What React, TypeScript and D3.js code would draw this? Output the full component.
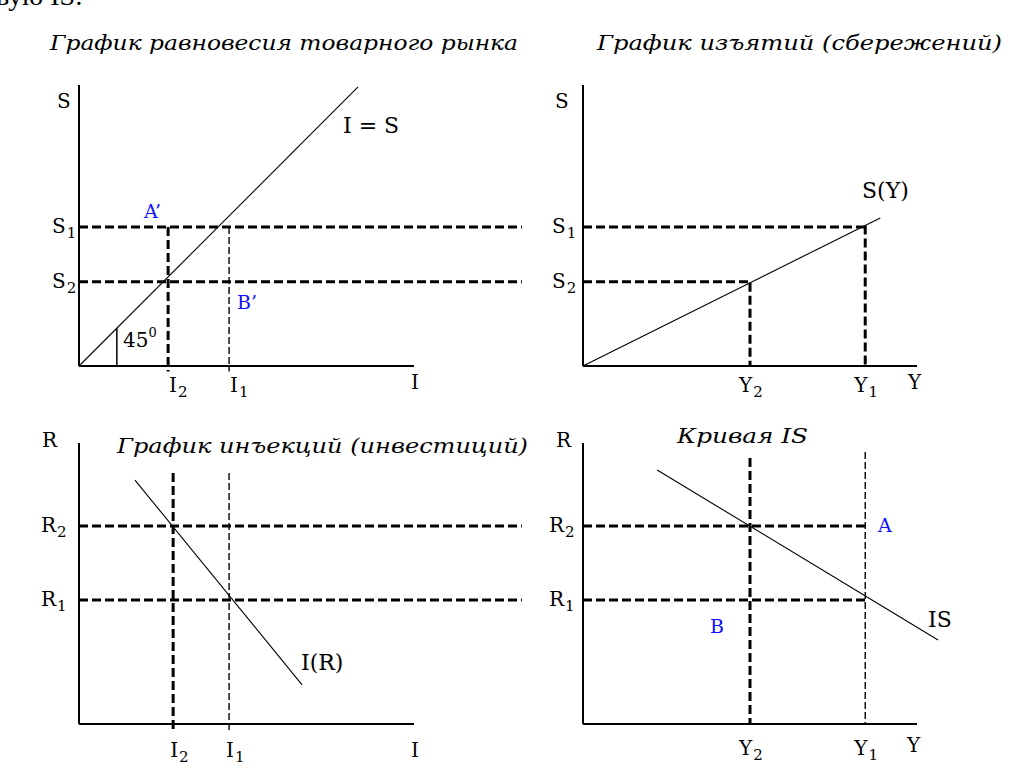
import React from "react";
import * as d3 from "d3";

// ---- data (conceptual units, 0..100 along each axis) ----
const savingLevels = [
  { sub: "1", v: 49.5 },
  { sub: "2", v: 30 },
];
const investTop = [
  { sub: "1", v: 44.8, thick: false },
  { sub: "2", v: 26.6, thick: true },
];
const investBottom = [
  { sub: "1", v: 44.8, thick: false },
  { sub: "2", v: 28.1, thick: true },
];
const incomeLevels = [
  { sub: "1", v: 84.5, thick: false },
  { sub: "2", v: 50, thick: true },
];
const rateLevels = [
  { sub: "1", v: 44.1 },
  { sub: "2", v: 70.5 },
];
const equalityLine: [number, number][] = [[0, 0], [83.3, 99.3]];
const savingCurve: [number, number][] = [[0, 0], [89, 52.7]];
const investCurve: [number, number][] = [[16.7, 86.8], [66.6, 13.9]];
const isCurve: [number, number][] = [[22.2, 90.4], [106.3, 29.9]];
const titles = [
  "График равновесия товарного рынка",
  "График изъятий (сбережений)",
  "График инъекций (инвестиций)",
  "Кривая IS",
];

const TITLE_FONT = "'DejaVu Serif', serif";
const LABEL_FONT = "'DejaVu Serif', serif";
const BLUE = "#1010ff";
const THICK = { stroke: "#000", strokeWidth: 3, strokeDasharray: "9 4", fill: "none" };
const THIN = { stroke: "#000", strokeWidth: 1.4, strokeDasharray: "7 3", fill: "none" };

function Sub({ x, y, main, sub, color = "#000" }: any) {
  return (
    <text x={x} y={y} fontFamily={LABEL_FONT} fontSize={20} fill={color}>
      {main}
      <tspan fontSize={15} dx={1} dy={5}>{sub}</tspan>
    </text>
  );
}

function Lbl({ x, y, t, color = "#000", size = 20 }: any) {
  return (
    <text x={x} y={y} fontFamily={LABEL_FONT} fontSize={size} fill={color}>
      {t}
    </text>
  );
}

export default function App() {
  // panel scales
  const xL = d3.scaleLinear().domain([0, 100]).range([79, 414]);
  const xR = d3.scaleLinear().domain([0, 100]).range([583, 917]);
  const yT = d3.scaleLinear().domain([0, 100]).range([366, 85]);
  const yB = d3.scaleLinear().domain([0, 100]).range([724, 443]);

  const lineTL = d3.line<[number, number]>().x((d) => xL(d[0])).y((d) => yT(d[1]));
  const lineTR = d3.line<[number, number]>().x((d) => xR(d[0])).y((d) => yT(d[1]));
  const lineBL = d3.line<[number, number]>().x((d) => xL(d[0])).y((d) => yB(d[1]));
  const lineBR = d3.line<[number, number]>().x((d) => xR(d[0])).y((d) => yB(d[1]));

  const hEndLeft = 132.2; // dashed guides extend across to right panel

  // 45 degree marker at x = 11.3
  const mX = 11.3;
  const eq = d3.scaleLinear().domain([equalityLine[0][0], equalityLine[1][0]]).range([equalityLine[0][1], equalityLine[1][1]]);
  const sv = d3.scaleLinear().domain([savingCurve[0][0], savingCurve[1][0]]).range([savingCurve[0][1], savingCurve[1][1]]);

  const S1 = savingLevels[0].v;

  return (
    <svg width={1029} height={775} style={{ position: "absolute", left: 0, top: 0, background: "#fff" }}>
      {/* cut-off text from previous line */}
      <text x={-4} y={5} fontFamily="'Liberation Serif', serif" fontSize={28}>вую IS:</text>

      {/* titles */}
      <text x={50} y={50} fontFamily={TITLE_FONT} fontStyle="italic" fontSize={20} textLength={468} lengthAdjust="spacingAndGlyphs">{titles[0]}</text>
      <text x={597} y={50} fontFamily={TITLE_FONT} fontStyle="italic" fontSize={20} textLength={405} lengthAdjust="spacingAndGlyphs">{titles[1]}</text>
      <text x={117} y={453} fontFamily={TITLE_FONT} fontStyle="italic" fontSize={20} textLength={411} lengthAdjust="spacingAndGlyphs">{titles[2]}</text>
      <text x={677} y={443} fontFamily={TITLE_FONT} fontStyle="italic" fontSize={20} textLength={131} lengthAdjust="spacingAndGlyphs">{titles[3]}</text>

      {/* ===== Top-left panel ===== */}
      {savingLevels.map((s) => (
        <line key={"tlh" + s.sub} x1={xL(0)} x2={xL(hEndLeft)} y1={yT(s.v)} y2={yT(s.v)} {...THICK} />
      ))}
      {investTop.map((d) => (
        <line key={"tlv" + d.sub} x1={xL(d.v)} x2={xL(d.v)} y1={yT(S1)} y2={yT(-2)} {...(d.thick ? THICK : THIN)} />
      ))}
      <path d={lineTL(equalityLine) || ""} stroke="#000" strokeWidth={1.1} fill="none" />
      <line x1={xL(mX)} x2={xL(mX)} y1={yT(0)} y2={yT(eq(mX))} stroke="#000" strokeWidth={1.5} />
      <line x1={xL(0)} x2={xL(0)} y1={yT(0)} y2={yT(100)} stroke="#000" strokeWidth={2} />
      <line x1={xL(0)} x2={xL(100)} y1={yT(0)} y2={yT(0)} stroke="#000" strokeWidth={2} />
      <Lbl x={57} y={108} t="S" />
      {savingLevels.map((s) => (
        <Sub key={"tls" + s.sub} x={52} y={yT(s.v) + 6} main="S" sub={s.sub} />
      ))}
      {investTop.map((d) => (
        <Sub key={"tli" + d.sub} x={xL(d.v) + 1} y={392} main="I" sub={d.sub} />
      ))}
      <Lbl x={411} y={389} t="I" />
      <Lbl x={343} y={133} t="I = S" size={22} />
      <text x={123} y={347} fontFamily={LABEL_FONT} fontSize={20}>
        45<tspan fontSize={13} dy={-10}>0</tspan>
      </text>
      <text x={144} y={218} fontFamily={LABEL_FONT} fontSize={19} fill={BLUE}>A’</text>
      <text x={237} y={309} fontFamily={LABEL_FONT} fontSize={19} fill={BLUE}>B’</text>

      {/* ===== Top-right panel ===== */}
      {savingLevels.map((s, i) => (
        <line key={"trh" + s.sub} x1={xR(0)} x2={xR(incomeLevels[i].v)} y1={yT(s.v)} y2={yT(s.v)} {...THICK} />
      ))}
      {incomeLevels.map((d) => (
        <line key={"trv" + d.sub} x1={xR(d.v)} x2={xR(d.v)} y1={yT(sv(d.v))} y2={yT(0)} {...THICK} />
      ))}
      <path d={lineTR(savingCurve) || ""} stroke="#000" strokeWidth={1.1} fill="none" />
      <line x1={xR(0)} x2={xR(0)} y1={yT(0)} y2={yT(100)} stroke="#000" strokeWidth={2} />
      <line x1={xR(0)} x2={xR(100)} y1={yT(0)} y2={yT(0)} stroke="#000" strokeWidth={2} />
      <Lbl x={555} y={108} t="S" />
      {savingLevels.map((s) => (
        <Sub key={"trs" + s.sub} x={552} y={yT(s.v) + 6} main="S" sub={s.sub} />
      ))}
      {incomeLevels.map((d) => (
        <Sub key={"tri" + d.sub} x={xR(d.v) - 11} y={392} main="Y" sub={d.sub} />
      ))}
      <Lbl x={908} y={389} t="Y" />
      <Lbl x={862} y={198} t="S(Y)" size={22} />

      {/* ===== Bottom-left panel ===== */}
      {rateLevels.map((r) => (
        <line key={"blh" + r.sub} x1={xL(0)} x2={xL(hEndLeft)} y1={yB(r.v)} y2={yB(r.v)} {...THICK} />
      ))}
      {investBottom.map((d) => (
        <line key={"blv" + d.sub} x1={xL(d.v)} x2={xL(d.v)} y1={yB(89.3)} y2={yB(-2.8)} {...(d.thick ? THICK : THIN)} />
      ))}
      <path d={lineBL(investCurve) || ""} stroke="#000" strokeWidth={1.1} fill="none" />
      <line x1={xL(0)} x2={xL(0)} y1={yB(0)} y2={yB(100)} stroke="#000" strokeWidth={2} />
      <line x1={xL(0)} x2={xL(100)} y1={yB(0)} y2={yB(0)} stroke="#000" strokeWidth={2} />
      <Lbl x={42} y={447} t="R" />
      {rateLevels.map((r) => (
        <Sub key={"blr" + r.sub} x={41} y={yB(r.v) + 6} main="R" sub={r.sub} />
      ))}
      {investBottom.map((d) => (
        <Sub key={"bli" + d.sub} x={xL(d.v) - 3} y={757} main="I" sub={d.sub} />
      ))}
      <Lbl x={411} y={757} t="I" />
      <Lbl x={301} y={670} t="I(R)" size={22} />

      {/* ===== Bottom-right panel ===== */}
      {rateLevels.map((r) => (
        <line key={"brh" + r.sub} x1={xR(0)} x2={xR(incomeLevels[0].v)} y1={yB(r.v)} y2={yB(r.v)} {...THICK} />
      ))}
      <line x1={xR(incomeLevels[1].v)} x2={xR(incomeLevels[1].v)} y1={yB(94.7)} y2={yB(0)} {...THICK} />
      <line x1={xR(incomeLevels[0].v)} x2={xR(incomeLevels[0].v)} y1={yB(96.8)} y2={yB(0)} {...THIN} />
      <path d={lineBR(isCurve) || ""} stroke="#000" strokeWidth={1.1} fill="none" />
      <line x1={xR(0)} x2={xR(0)} y1={yB(0)} y2={yB(100)} stroke="#000" strokeWidth={2} />
      <line x1={xR(0)} x2={xR(100)} y1={yB(0)} y2={yB(0)} stroke="#000" strokeWidth={2} />
      <Lbl x={556} y={447} t="R" />
      {rateLevels.map((r) => (
        <Sub key={"brr" + r.sub} x={549} y={yB(r.v) + 6} main="R" sub={r.sub} />
      ))}
      {incomeLevels.map((d) => (
        <Sub key={"bri" + d.sub} x={xR(d.v) - 11} y={755} main="Y" sub={d.sub} />
      ))}
      <Lbl x={907} y={752} t="Y" />
      <Lbl x={928} y={627} t="IS" size={22} />
      <text x={878} y={532} fontFamily={LABEL_FONT} fontSize={19} fill={BLUE}>A</text>
      <text x={710} y={633} fontFamily={LABEL_FONT} fontSize={19} fill={BLUE}>B</text>
    </svg>
  );
}
